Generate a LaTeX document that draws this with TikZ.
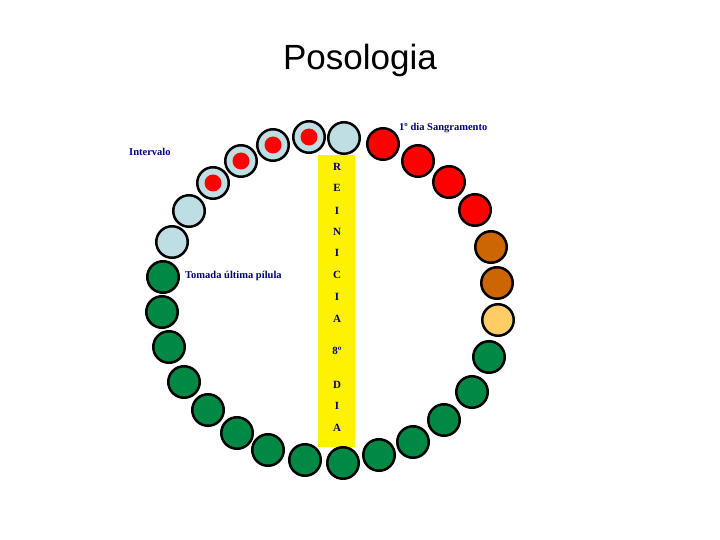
\documentclass[tikz,border=0pt]{standalone}
\usepackage{fontspec}
\setmainfont{Liberation Serif}
\newfontfamily\titlefont{Liberation Sans}
\usepackage{xcolor}
\usetikzlibrary{positioning}
\definecolor{diaazul}{RGB}{190,222,228}
\definecolor{diaverde}{RGB}{0,136,68}
\definecolor{dialaranja}{RGB}{204,102,0}
\definecolor{diaclaro}{RGB}{255,204,102}
\definecolor{texto}{RGB}{0,0,128}
\tikzset{
  dia/.style={circle, draw=black, line width=2.5pt, minimum size=31.5pt, inner sep=0pt},
  rotulo/.style={anchor=west, text=texto, inner sep=0pt, font=\fontsize{10.5}{12}\selectfont\bfseries},
  letra/.style={text=texto, inner sep=0pt, font=\fontsize{11}{12}\selectfont\bfseries}
}
\begin{document}
\begin{tikzpicture}[x=1pt, y=-1pt]
					\useasboundingbox (0,0) rectangle (720,540);
					% faixa amarela
					\fill[yellow] (318,155) rectangle (355,447);
					% titulo
					\node[anchor=base, inner sep=0pt, font=\titlefont\fontsize{35}{40}\selectfont] (titulo) at (360,70) {Posologia};
					
					% os 28 dias
					\foreach \x/\y/\c [count=\i] in {383/144/red, 418/161/red, 449/182/red, 475/210/red,
						491/247/dialaranja, 497/283/dialaranja, 498/320/diaclaro,
						489/357/diaverde, 472/392/diaverde, 444/420/diaverde, 413/442/diaverde,
						379/455/diaverde, 343/463/diaverde, 305/460/diaverde, 268/450/diaverde,
						237/433/diaverde, 208/410/diaverde, 184/382/diaverde, 169/347/diaverde,
						162/312/diaverde, 163/277/diaverde,
						172/242/diaazul, 189/211/diaazul, 213/183/diaazul, 241/161/diaazul,
						273/145/diaazul, 309/137/diaazul, 344/138/diaazul}
						\node[dia, fill=\c] (d\i) at (\x,\y) {};
					% pontos vermelhos
					\foreach \i in {24,...,27}
						\fill[red] (d\i) circle (8.5);
					
					% letras da faixa
					\foreach \l/\y [count=\i] in {R/167, E/188, I/211, N/232, I/253, C/275,
						I/297, A/319, 8º/351, D/385, I/406, A/428}
						\node[letra] (l\i) at (337,\y) {\l};
					
					% rotulos
					\node[rotulo] (sangramento) at (399,128) {1º dia Sangramento};
					\node[rotulo] (intervalo) at (129,152) {Intervalo};
					\node[rotulo] (ultima) at (185,276) {Tomada última pílula};
				\end{tikzpicture}
\end{document}
